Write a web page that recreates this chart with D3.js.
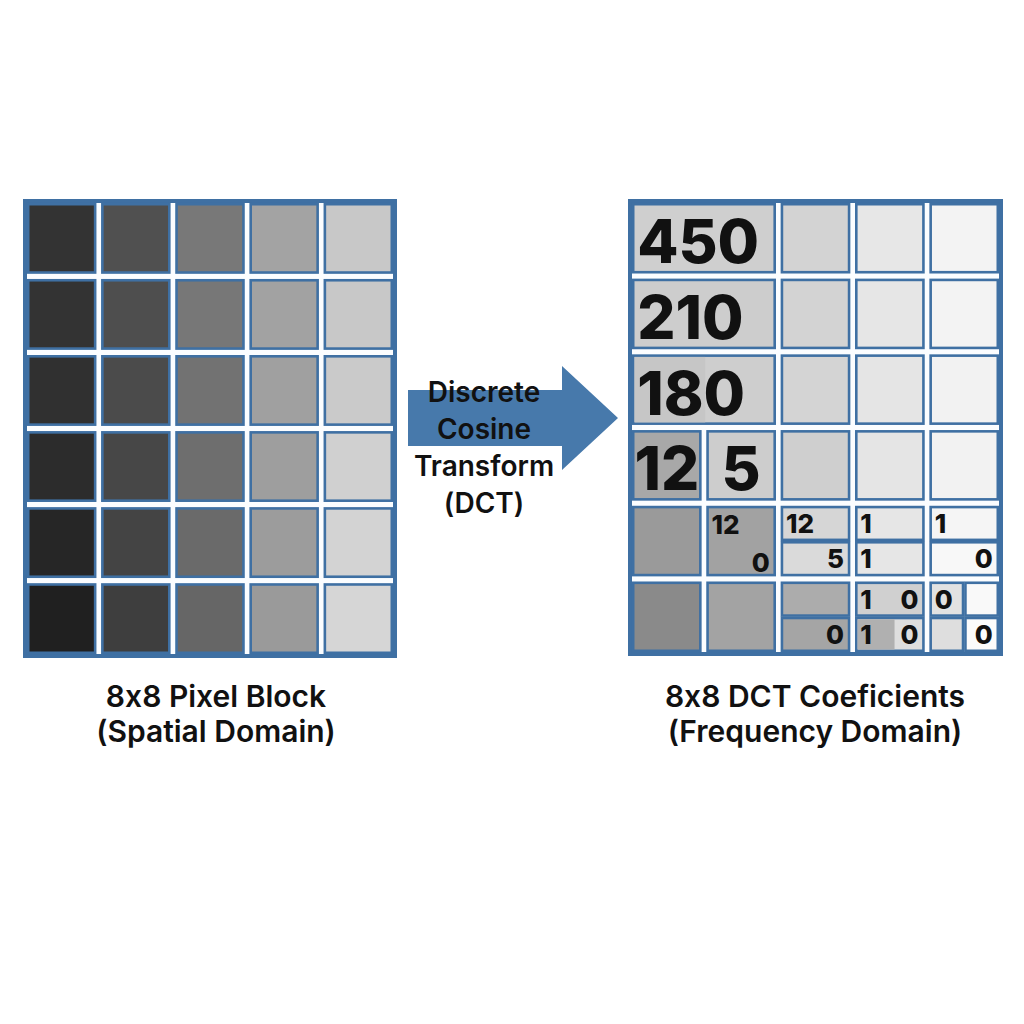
<!DOCTYPE html>
<html>
<head>
<meta charset="utf-8">
<script src="https://cdn.jsdelivr.net/npm/d3@7"></script>
<style>
  body { margin: 0; background: #fff; }
  text { font-family: Inter, "Noto Sans", sans-serif; fill: #111; font-feature-settings: "calt" 0; }
</style>
</head>
<body>
<svg width="1024" height="1024"></svg>
<script>
// ---- data ----
let pixelCols = [0, 1, 2, 3, 4];
let pixelRows = [0, 1, 2, 3, 4, 5];
// grey level of each pixel, row by row
let pixels = [
  [51, 80, 120, 163, 200],
  [51, 78, 119, 162, 200],
  [48, 75, 114, 160, 202],
  [44, 71, 110, 158, 208],
  [38, 68, 106, 156, 211],
  [32, 62, 102, 154, 214]
];

let coefCols = [0, 1, 2, 3, 4];
let coefRows = [0, 1, 2, 3, 4, 5];
let coefCells = [
  {row:0, col:0, span:2, part:"full", v:207}, {row:0, col:2, part:"full", v:211},
  {row:0, col:3, part:"full", v:231}, {row:0, col:4, part:"full", v:243},
  {row:1, col:0, span:2, part:"full", v:205}, {row:1, col:2, part:"full", v:211},
  {row:1, col:3, part:"full", v:230}, {row:1, col:4, part:"full", v:243},
  {row:2, col:0, span:2, part:"full", v:206, shade:198}, {row:2, col:2, part:"full", v:212},
  {row:2, col:3, part:"full", v:229}, {row:2, col:4, part:"full", v:242},
  {row:3, col:0, part:"full", v:168}, {row:3, col:1, part:"full", v:205},
  {row:3, col:2, part:"full", v:207}, {row:3, col:3, part:"full", v:229},
  {row:3, col:4, part:"full", v:242},
  {row:4, col:0, part:"full", v:154}, {row:4, col:1, part:"full", v:162},
  {row:4, col:2, part:"top", v:214}, {row:4, col:2, part:"bottom", v:218},
  {row:4, col:3, part:"top", v:230}, {row:4, col:3, part:"bottom", v:230},
  {row:4, col:4, part:"top", v:245}, {row:4, col:4, part:"bottom", v:248},
  {row:5, col:0, part:"full", v:138}, {row:5, col:1, part:"full", v:163},
  {row:5, col:2, part:"top", v:172}, {row:5, col:2, part:"bottom", v:165},
  {row:5, col:3, part:"top", v:208}, {row:5, col:3, part:"bottom", v:222, shade:176},
  {row:5, col:4, part:"tl", v:226}, {row:5, col:4, part:"tr", v:249},
  {row:5, col:4, part:"bl", v:222}, {row:5, col:4, part:"br", v:251}
];
let coefLabels = [
  {row:0, col:0, span:2, part:"full", text:"450", big:true, pos:"l"},
  {row:1, col:0, span:2, part:"full", text:"210", big:true, pos:"l"},
  {row:2, col:0, span:2, part:"full", text:"180", big:true, pos:"l"},
  {row:3, col:0, part:"full", text:"12", big:true, pos:"c"},
  {row:3, col:1, part:"full", text:"5", big:true, pos:"c"},
  {row:4, col:1, part:"full", text:"12", pos:"tl"},
  {row:4, col:1, part:"full", text:"0", pos:"br"},
  {row:4, col:2, part:"top", text:"12", pos:"l"},
  {row:4, col:2, part:"bottom", text:"5", pos:"r"},
  {row:4, col:3, part:"top", text:"1", pos:"l"},
  {row:4, col:3, part:"bottom", text:"1", pos:"l"},
  {row:4, col:4, part:"top", text:"1", pos:"l"},
  {row:4, col:4, part:"bottom", text:"0", pos:"r"},
  {row:5, col:2, part:"bottom", text:"0", pos:"r"},
  {row:5, col:3, part:"top", text:"1", pos:"l"},
  {row:5, col:3, part:"top", text:"0", pos:"r"},
  {row:5, col:3, part:"bottom", text:"1", pos:"l"},
  {row:5, col:3, part:"bottom", text:"0", pos:"r"},
  {row:5, col:4, part:"tl", text:"0", pos:"l"},
  {row:5, col:4, part:"br", text:"0", pos:"r"}
];

let arrowText = ["Discrete", "Cosine", "Transform", "(DCT)"];
let leftCaption = ["8x8 Pixel Block", "(Spatial Domain)"];
let rightCaption = ["8x8 DCT Coeficients", "(Frequency Domain)"];

// ---- layout ----
let blue = "#3f70a3";
let grey = v => d3.rgb(v, v, v).toString();
let svg = d3.select("svg");

let lx = d3.scaleBand().domain(pixelCols).range([27, 393]).paddingInner(0.065);
let ly = d3.scaleBand().domain(pixelRows).range([203, 654]).paddingInner(0.07);
let rx = d3.scaleBand().domain(coefCols).range([632, 999]).paddingInner(0.065);
let ry = d3.scaleBand().domain(coefRows).range([203, 652]).paddingInner(0.07);

function frame(g, x, y){
  let [x0, x1] = x.range(), [y0, y1] = y.range();
  g.append("rect").attr("x", x0-4).attr("y", y0-4)
    .attr("width", x1-x0+8).attr("height", y1-y0+8).attr("fill", blue);
  g.append("rect").attr("x", x0).attr("y", y0)
    .attr("width", x1-x0).attr("height", y1-y0).attr("fill", "#fbfdff");
}

// left: pixel block
let gl = svg.append("g");
frame(gl, lx, ly);
let pix = [];
pixels.forEach((r, i) => r.forEach((v, j) => pix.push({row:i, col:j, v:v})));
gl.selectAll("rect.px").data(pix).join("rect")
  .attr("class", "px")
  .attr("x", d => lx(d.col)+1.2).attr("y", d => ly(d.row)+1.2)
  .attr("width", lx.bandwidth()-2.4).attr("height", ly.bandwidth()-2.4)
  .attr("fill", d => grey(d.v)).attr("stroke", blue).attr("stroke-width", 2.6);

// right: coefficients
function box(d){
  let span = d.span || 1;
  let x = rx(d.col), y = ry(d.row);
  let w = rx(d.col + span - 1) + rx.bandwidth() - x, h = ry.bandwidth();
  let p = d.part;
  if (p == "top") h = h/2;
  if (p == "bottom") { y += h/2; h = h/2; }
  if (p == "tl" || p == "tr" || p == "bl" || p == "br") {
    if (p[1] == "r") x += w/2;
    if (p[0] == "b") y += h/2;
    w = w/2; h = h/2;
  }
  return {x:x+1.2, y:y+1.2, w:w-2.4, h:h-2.4};
}

let gr = svg.append("g");
frame(gr, rx, ry);
gr.selectAll("rect.cf").data(coefCells).join("rect")
  .attr("class", "cf")
  .attr("x", d => box(d).x).attr("y", d => box(d).y)
  .attr("width", d => box(d).w).attr("height", d => box(d).h)
  .attr("fill", d => grey(d.v)).attr("stroke", blue).attr("stroke-width", 2.6);
// darker left part inside a few cells
gr.selectAll("rect.sh").data(coefCells.filter(d => d.shade)).join("rect")
  .attr("class", "sh")
  .attr("x", d => box(d).x+1.3).attr("y", d => box(d).y+1.3)
  .attr("width", d => (d.span ? 0.5 : 0.55)*box(d).w).attr("height", d => box(d).h-2.6)
  .attr("fill", d => grey(d.shade));

gr.selectAll("text").data(coefLabels).join("text")
  .text(d => d.text)
  .attr("font-weight", 800)
  .attr("font-size", d => d.big ? 60 : 26)
  .attr("text-anchor", d => d.pos == "c" ? "middle" : (d.pos.includes("r") ? "end" : "start"))
  .attr("x", d => {
    let b = box(d);
    if (d.pos == "c") return b.x + b.w/2;
    return d.pos.includes("r") ? b.x + b.w - 5 : b.x + 4;
  })
  .attr("y", d => {
    let b = box(d);
    if (d.big) return b.y + b.h - 9;
    if (d.pos == "tl") return b.y + 27;
    if (d.pos == "br") return b.y + b.h - 3;
    return b.y + b.h/2 + 9.5;
  });

// arrow between the two blocks
let ax0 = 408, ax1 = 562, tip = 618, cy = 418;
svg.append("path")
  .attr("d", d3.line()([[ax0, cy-28], [ax1, cy-28], [ax1, cy-52], [tip, cy],
                        [ax1, cy+52], [ax1, cy+28], [ax0, cy+28]]) + "Z")
  .attr("fill", "#4779ab");
svg.append("g").selectAll("text").data(arrowText).join("text")
  .text(d => d)
  .attr("x", 484).attr("y", (d, i) => 402 + i*37)
  .attr("text-anchor", "middle")
  .attr("font-size", 28).attr("font-weight", 600);

// captions
function caption(lines, cx){
  svg.append("g").selectAll("text").data(lines).join("text")
    .text(d => d)
    .attr("x", cx).attr("y", (d, i) => 707 + i*35)
    .attr("text-anchor", "middle")
    .attr("font-size", 30).attr("font-weight", 600);
}
caption(leftCaption, 216);
caption(rightCaption, 815);
</script>
</body>
</html>
